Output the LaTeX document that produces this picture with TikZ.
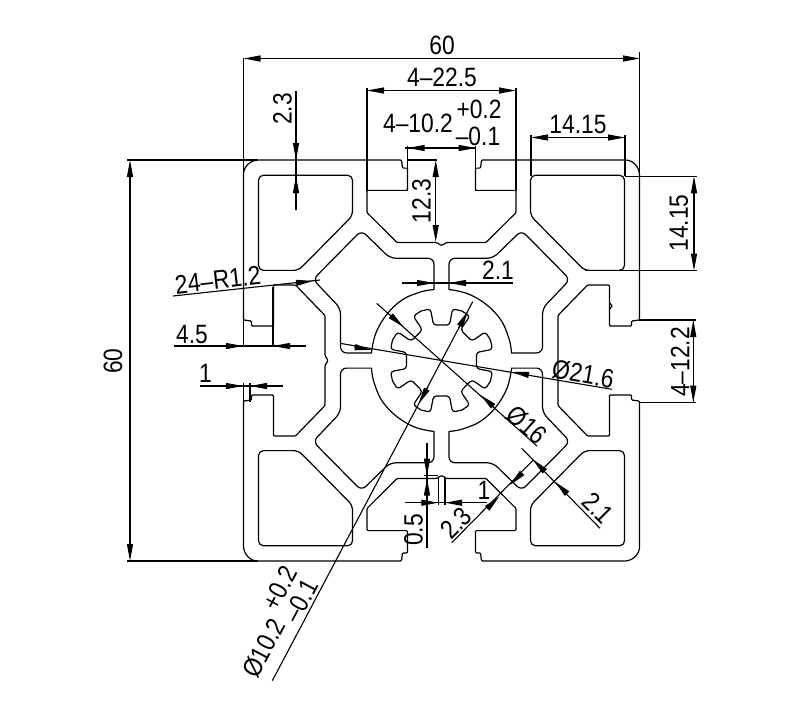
\documentclass[tikz,border=0pt]{standalone}
\usepackage{fontspec}
\setmainfont{Liberation Sans}
\usetikzlibrary{arrows.meta}
\tikzset{
  edge/.style={line width=1.2pt, line join=round},
  dim/.style={line width=1.1pt},
  head/.style={line width=1.1pt, -{Triangle[length=17pt,width=6pt]}},
  both/.style={line width=1.1pt, {Triangle[length=17pt,width=6pt]}-{Triangle[length=17pt,width=6pt]}},
  size/.style={font=\fontsize{26.5}{26.5}\selectfont, inner sep=0pt, transform shape, xscale=0.86},
  profile/.style={shift={(441.5,360.5)}, yscale=1.0126, x=1pt, y=1pt}
}
\begin{document}
\begin{tikzpicture}[x=1pt,y=-1pt]
  \useasboundingbox (0,0) rectangle (800,716);
  % section
  \begin{scope}[profile]
    \foreach \a/\n in {0/113.5,-90/116.5,180/113.5,90/113.5} {
      \draw[edge, rotate=\a, rounded corners=1pt] (-183,198) -- (-40,198) -- (-39,190) -- (-34,190) -- (-34,168) -- (-74.5,168) -- (-74.5,146) -- (-44.5,116.5) -- (-5,116.5) -- (0,\n) -- (5,116.5) -- (44.5,116.5) -- (74.5,146) -- (74.5,168) -- (34,168) -- (34,190) -- (39,190) -- (40,198) -- (183,198) arc[start angle=90,end angle=0,radius=15];
    }
    \foreach \a in {0,90,180,270} {
      \draw[edge, rotate=\a, rounded corners=5pt] (89,183) -- (183,183) -- (183,89) -- (143,89) -- (89,143) -- cycle;
      \draw[edge, rotate=\a, rounded corners=6pt] (69:71) .. controls (15,69.5) and (7.5,70) .. (7.5,76) -- (7.5,101) -- (51.5,101) -- (80,128.5) -- (128.5,80) -- (101,51.5) -- (101,7.5) -- (76,7.5) .. controls (70,7.5) and (69.5,15) .. (21:71) arc[start angle=21,end angle=69,radius=71];
    }
    \foreach \a in {0,45,...,315} {
      \draw[edge, rotate=\a, rounded corners=3pt] (112.5:53) -- (-11,51) -- (-8,35) -- (8,35) -- (11,51) -- (67.5:53);
    }
  \end{scope}
  \draw[edge] (610,303) -- (612,306) -- (610,309);

  % outer size
  \draw[both] (243.5,58.5) -- (640,58.5);
  \draw[dim] (243.5,58) -- (243.5,176);
  \draw[dim] (639.5,52) -- (639.5,176);
  \node[size] (top60) at (442,45) {60};
  \draw[both] (130,160) -- (130,561);
  \draw[dim] (127,160) -- (258,160);
  \draw[dim] (127,561) -- (258,561);
  \node[rotate=90, size] (left60) at (113,361) {60};

  % top slot
  \draw[both] (367,90.5) -- (516,90.5);
  \draw[dim] (367,88) -- (367,191);
  \draw[dim] (516,88) -- (516,191);
  \node[size] (slotw) at (442,77) {4--22.5};
  \draw[dim] (405,148) -- (476,148);
  \draw[head] (425,148) -- (407.7,148);
  \draw[head] (458,148) -- (475.7,148);
  \draw[dim] (407.7,146) -- (407.7,191);
  \draw[dim] (475.7,146) -- (475.7,191);
  \node[size] (openw) at (418,123) {4--10.2};
  \node[size] (openp) at (479,109) {+0.2};
  \node[size] (openm) at (478,136) {--0.1};
  \draw[both] (435.7,160) -- (435.7,242);
  \draw[dim] (408,160) -- (437,160);
  \node[rotate=90, size] (slotd) at (421.5,201) {12.3};

  % wall
  \draw[dim] (296,91) -- (296,210);
  \draw[head] (296,143) -- (296,160);
  \draw[head] (296,194) -- (296,176);
  \node[rotate=90, size] (wall) at (282.5,109) {2.3};

  % corner hollow
  \draw[both] (531,137.5) -- (625,137.5);
  \draw[dim] (531,135) -- (531,176);
  \draw[dim] (625,135) -- (625,176);
  \node[size] (hollowx) at (578,125) {14.15};
  \draw[both] (694,176.3) -- (694,270.7);
  \draw[dim] (625,176.3) -- (697,176.3);
  \draw[dim] (585,270.7) -- (697,270.7);
  \node[rotate=90, size] (hollowy) at (679,223) {14.15};

  % right slot
  \draw[dim] (693.3,320) -- (693.3,402.5);
  \draw[head] (693.3,337) -- (693.3,320);
  \draw[head] (693.3,385) -- (693.3,402.5);
  \draw[dim] (639,320) -- (696,320);
  \draw[dim] (639,402.5) -- (696,402.5);
  \node[rotate=90, size] (sloth) at (680,362) {4--12.2};

  % neck
  \draw[dim] (402,283) -- (513,283);
  \draw[head] (417,283) -- (434,283);
  \draw[head] (466,283) -- (449,283);
  \node[size] (neck) at (498,270) {2.1};

  % left side
  \draw[dim] (173,296) -- (320,280);
  \draw[head] (295,283) -- (313,281);
  \node[rotate=6.5, size] (radius) at (218,280) {24--R1.2};
  \draw[dim] (174,346) -- (306,346);
  \draw[head] (226,346) -- (243,346);
  \draw[head] (290,346) -- (273,346);
  \draw[dim] (243.5,319) -- (243.5,347);
  \draw[dim] (273,287) -- (273,347);
  \node[size] (lipw) at (192,335) {4.5};
  \draw[dim] (200,386) -- (283,386);
  \draw[head] (226,386) -- (243,386);
  \draw[head] (267,386) -- (250,386);
  \draw[dim] (243.5,383) -- (243.5,402);
  \draw[dim] (250,383) -- (250,402);
  \node[size] (lipt) at (205.5,373) {1};

  % diameters
  \draw[dim] (340,343.3) -- (611.7,389.3);
  \draw[head] (354,347) -- (371.7,350);
  \draw[head] (529,375) -- (512,372);
  \node[rotate=-10, size] (bore) at (583,374) {Ø21.6};
  \draw[dim] (376.7,303.3) -- (537,446);
  \draw[head] (390,315) -- (403.5,327);
  \draw[head] (494,407) -- (480.5,395);
  \node[rotate=-41.6, size] (gear) at (527,425) {Ø16};
  \draw[dim] (272.3,680.7) -- (472.7,301.7);
  \draw[head] (458.5,328.5) -- (468,311);
  \draw[head] (428,387) -- (418.5,404);
  \node[rotate=62, size] (holea) at (263.5,648) {Ø10.2};
  \node[rotate=62, size] (holeb) at (280,588) {+0.2};
  \node[rotate=62, size] (holec) at (301,601) {--0.1};

  % bottom slot
  \draw[dim] (427,443) -- (427,548);
  \draw[head] (427,458) -- (427,475.7);
  \draw[head] (427,496) -- (427,478.5);
  \draw[dim] (424,475.7) -- (438,475.7);
  \node[rotate=90, size] (notch) at (413.5,530) {0.5};
  \draw[dim] (405,502.7) -- (487,502.7);
  \draw[head] (421.5,502.7) -- (438.3,502.7);
  \draw[head] (461.5,502.7) -- (445,502.7);
  \draw[dim] (438.3,478) -- (438.3,505);
  \draw[dim] (445,478) -- (445,505);
  \node[size] (gap) at (484,490) {1};

  % diagonal walls
  \draw[dim] (451.7,542.7) -- (533.3,460);
  \draw[head] (487,508.5) -- (499.3,496.5);
  \draw[head] (522,473) -- (510,485);
  \node[rotate=45, size] (dwall) at (456,523) {2.3};
  \draw[dim] (521.7,448.3) -- (600,528.3);
  \draw[head] (544.5,471) -- (532.7,459.3);
  \draw[head] (567,493.5) -- (555,481.7);
  \node[rotate=-45, size] (dneck) at (598,508) {2.1};
\end{tikzpicture}
\end{document}
